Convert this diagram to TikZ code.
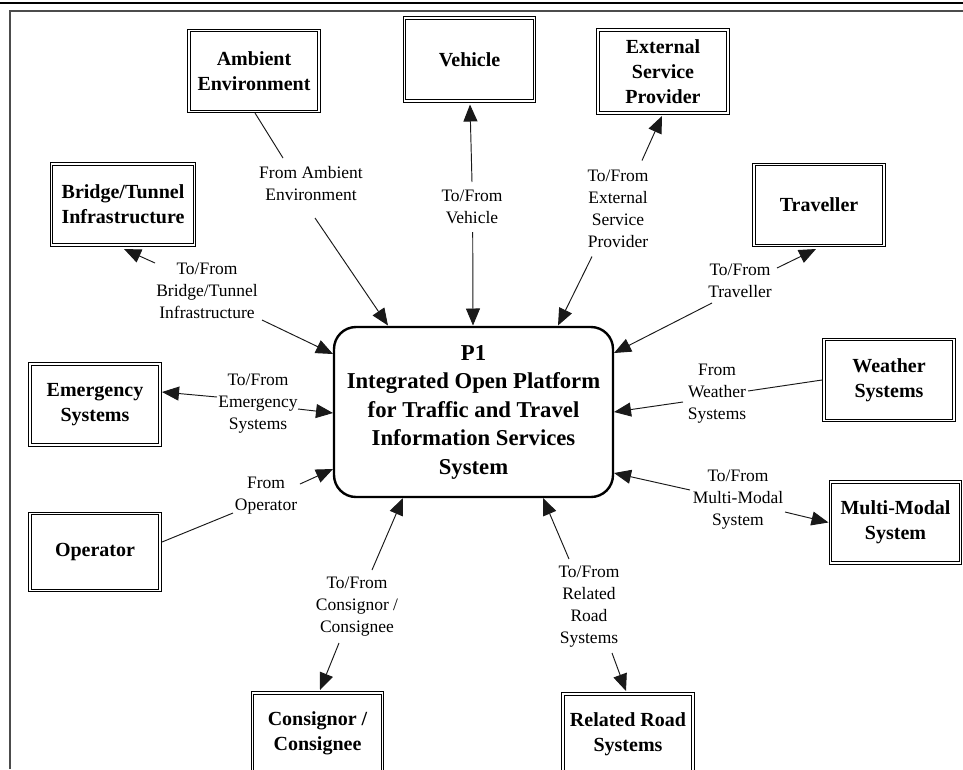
\documentclass[tikz,border=0pt]{standalone}
\usepackage{fontspec}
\setmainfont{Liberation Serif}
\usetikzlibrary{arrows.meta}
\begin{document}
\begin{tikzpicture}[x=1pt,y=-1pt,
  entity/.style={draw=black,line width=0.75pt,double=white,double distance=1.7pt,
    minimum width=130pt,minimum height=81pt,inner sep=0pt,align=center,
    font=\fontsize{20}{25}\selectfont\bfseries},
  process/.style={draw=black,line width=2.4pt,rounded corners=22pt,
    minimum width=279pt,minimum height=170pt,inner sep=0pt,align=center,
    font=\fontsize{22.7}{28.5}\selectfont\bfseries},
  flow/.style={align=center,inner sep=0pt,font=\fontsize{17.5}{22}\selectfont},
  link/.style={draw=black!90,line width=0.95pt},
  arr/.style={link,-{Triangle[length=17pt,width=14pt]}}
]
\useasboundingbox (0,0) rectangle (963,769);
\clip (0,0) rectangle (963,769);

% page frame
\draw[line width=2.6pt] (0,3) -- (963,3);
\draw[line width=1.2pt,black!70] (10,769) -- (10,11) -- (963,11);

% central process
\node[process] (p1) at (473.5,412)
  {P1\\Integrated Open Platform\\for Traffic and Travel\\Information Services\\System};

% terminators
\node[entity] (amb)  at (254,71)     {Ambient\\Environment};
\node[entity,minimum height=83pt] (veh) at (469.5,59.5) {Vehicle};
\node[entity,minimum height=83pt] (ext) at (663,71.5) {External\\Service\\Provider};
\node[entity] (trav) at (819,205)    {Traveller};
\node[entity,minimum width=143pt] (brid) at (123,204.5) {Bridge/Tunnel\\Infrastructure};
\node[entity] (emer) at (95,404.5)   {Emergency\\Systems};
\node[entity,minimum height=77pt] (oper) at (95,552) {Operator};
\node[entity] (weat) at (889,380)    {Weather\\Systems};
\node[entity] (mult) at (895.5,522.5) {Multi-Modal\\System};
\node[entity] (cons) at (317.5,733.5) {Consignor /\\Consignee};
\node[entity] (rel)  at (628,734.5)  {Related Road\\Systems};

% flow labels
\node[flow] (lamb)  at (311,184) {From Ambient\\Environment};
\node[flow] (lveh)  at (472,207) {To/From\\Vehicle};
\node[flow] (lext)  at (618,208.5) {To/From\\External\\Service\\Provider};
\node[flow] (ltrav) at (740,281) {To/From\\Traveller};
\node[flow] (lbrid) at (207,291) {To/From\\Bridge/Tunnel\\Infrastructure};
\node[flow] (lemer) at (258,404) {To/From\\Emergency\\Systems};
\node[flow] (loper) at (266,496) {From\\Operator};
\node[flow] (lweat) at (717,394) {From\\Weather\\Systems};
\node[flow] (lmult) at (738,500) {To/From\\Multi-Modal\\System};
\node[flow] (lcons) at (357,607) {To/From\\Consignor /\\Consignee};
\node[flow] (lrel)  at (589,607) {To/From\\Related\\Road\\Systems};

% Ambient Environment
\draw[link] ([shift={(1,42)}]amb.center) -- ([shift={(-28,-26)}]lamb.center);
\draw[arr] ([shift={(4,34)}]lamb.center) -- ([shift={(-85.5,-86.5)}]p1.center);
% Vehicle
\draw[arr] ([shift={(0,-25)}]lveh.center) -- ([shift={(0.5,45)}]veh.center);
\draw[arr] ([shift={(0.7,25)}]lveh.center) -- ([shift={(-0.5,-86.5)}]p1.center);
% External Service Provider
\draw[arr] ([shift={(24,-48)}]lext.center) -- ([shift={(-1,44.5)}]ext.center);
\draw[arr] ([shift={(-26,48)}]lext.center) -- ([shift={(84.5,-86.5)}]p1.center);
% Traveller
\draw[arr] ([shift={(37,-13)}]ltrav.center) -- ([shift={(-3,44)}]trav.center);
\draw[arr] ([shift={(-28,22)}]ltrav.center) -- ([shift={(140.5,-59)}]p1.center);
% Weather Systems
\draw[link] ([shift={(-67,0)}]weat.center) -- ([shift={(31,-3)}]lweat.center);
\draw[arr] ([shift={(-34,8)}]lweat.center) -- ([shift={(140.5,0)}]p1.center);
% Multi-Modal System
\draw[arr] ([shift={(47,12)}]lmult.center) -- ([shift={(-67,0)}]mult.center);
\draw[arr] ([shift={(-48,-10)}]lmult.center) -- ([shift={(140.5,61)}]p1.center);
% Related Road Systems
\draw[arr] ([shift={(23,46)}]lrel.center) -- ([shift={(-2,-43.5)}]rel.center);
\draw[arr] ([shift={(-20,-48)}]lrel.center) -- ([shift={(69.5,86)}]p1.center);
% Consignor / Consignee
\draw[arr] ([shift={(-18,36)}]lcons.center) -- ([shift={(2.5,-43.5)}]cons.center);
\draw[arr] ([shift={(15,-37)}]lcons.center) -- ([shift={(-70.5,86)}]p1.center);
% Operator
\draw[link] ([shift={(67,-10)}]oper.center) -- ([shift={(-33,17)}]loper.center);
\draw[arr] ([shift={(34,-12)}]loper.center) -- ([shift={(-140.5,57)}]p1.center);
% Emergency Systems
\draw[arr] ([shift={(-41,-7)}]lemer.center) -- ([shift={(67,-12.5)}]emer.center);
\draw[arr] ([shift={(40,5)}]lemer.center) -- ([shift={(-140.5,1)}]p1.center);
% Bridge/Tunnel Infrastructure
\draw[arr] ([shift={(-52,-28)}]lbrid.center) -- ([shift={(1,44.5)}]brid.center);
\draw[arr] ([shift={(55,29)}]lbrid.center) -- ([shift={(-140.5,-58)}]p1.center);
\end{tikzpicture}
\end{document}
